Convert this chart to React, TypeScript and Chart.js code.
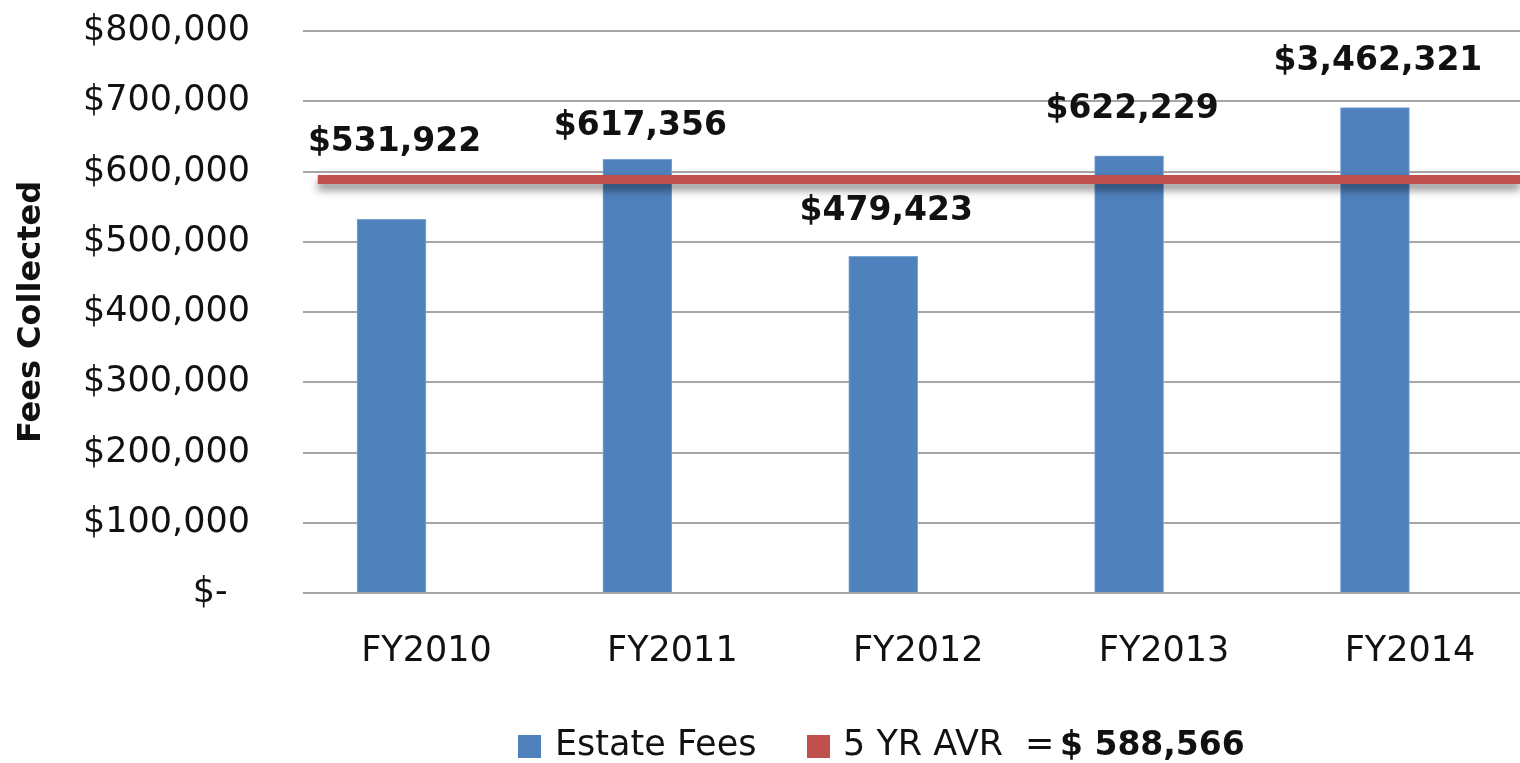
import React, { useEffect, useRef } from "react";
import { Chart, registerables } from "chart.js";

Chart.register(...registerables);

const categories = ["FY2010", "FY2011", "FY2012", "FY2013", "FY2014"];
const estateFees = [531922, 617356, 479423, 622229, 691000];
const feeLabels = ["$531,922", "$617,356", "$479,423", "$622,229", "$3,462,321"];
const fiveYearAvg = 588566;
const avgLineStart = -0.3;
const avgLineEnd = 4.59;
const yMax = 800000;
const yStep = 100000;

const FONT = '"DejaVu Sans", sans-serif';
const BLUE = "#4F81BD";
const RED = "#C0504D";
const TEXT = "#111111";

const barLabelsPlugin = {
  id: "barLabels",
  afterDatasetsDraw(chart: any, _args: any, opts: any) {
    const meta = chart.getDatasetMeta(0);
    const ctx = chart.ctx;
    ctx.save();
    ctx.font = `bold 33px ${FONT}`;
    ctx.fillStyle = TEXT;
    ctx.textAlign = "center";
    ctx.textBaseline = "middle";
    meta.data.forEach((bar: any, i: number) => {
      ctx.fillText(feeLabels[i], bar.x + opts.dx, bar.y - opts.lift[i]);
    });
    ctx.restore();
  },
};

const lineShadowPlugin = {
  id: "lineShadow",
  beforeDatasetDraw(chart: any, args: any) {
    if (args.index === 1) {
      const ctx = chart.ctx;
      ctx.save();
      ctx.shadowColor = "rgba(0,0,0,0.45)";
      ctx.shadowBlur = 9;
      ctx.shadowOffsetY = 6;
    }
  },
  afterDatasetDraw(chart: any, args: any) {
    if (args.index === 1) chart.ctx.restore();
  },
};

const customLegendPlugin = {
  id: "customLegend",
  afterDraw(chart: any, _args: any, opts: any) {
    const ctx = chart.ctx;
    const y = opts.y;
    ctx.save();
    ctx.textBaseline = "middle";
    ctx.textAlign = "left";
    ctx.fillStyle = BLUE;
    ctx.fillRect(opts.x1, y - 11, 23, 23);
    ctx.fillStyle = TEXT;
    ctx.font = `35px ${FONT}`;
    ctx.fillText("Estate Fees", opts.x1 + 37, y);
    ctx.fillStyle = RED;
    ctx.fillRect(opts.x2, y - 11, 23, 23);
    ctx.fillStyle = TEXT;
    ctx.font = `35px ${FONT}`;
    ctx.fillText("5 YR AVR", opts.x2 + 36, y);
    ctx.fillText("=", opts.x3, y);
    ctx.font = `bold 33px ${FONT}`;
    ctx.fillText("$ " + fiveYearAvg.toLocaleString("en-US"), opts.x4, y);
    ctx.restore();
  },
};

export default function App() {
  const canvasRef = useRef<HTMLCanvasElement | null>(null);

  useEffect(() => {
    if (!canvasRef.current) return;
    const chart = new Chart(canvasRef.current, {
      type: "bar",
      data: {
        datasets: [
          {
            type: "bar",
            label: "Estate Fees",
            data: estateFees.map((v, i) => ({ x: i, y: v })),
            backgroundColor: BLUE,
            borderColor: "#7EA6D6",
            borderWidth: 1,
            barThickness: 69,
            order: 1,
          } as any,
          {
            type: "line",
            label: "5 YR AVR",
            data: [
              { x: avgLineStart, y: fiveYearAvg },
              { x: avgLineEnd, y: fiveYearAvg },
            ],
            borderColor: RED,
            borderWidth: 9,
            pointRadius: 0,
            borderCapStyle: "butt",
            order: 0,
          } as any,
        ],
      },
      options: {
        responsive: false,
        animation: false,
        layout: { padding: { top: 31, right: 0, left: 0, bottom: 0 } },
        plugins: {
          legend: { display: false },
          tooltip: { enabled: false },
          barLabels: { dx: 3, lift: [77, 33, 45, 46, 46] },
          customLegend: { y: 746, x1: 518, x2: 807, x3: 1025, x4: 1060 },
        } as any,
        scales: {
          x: {
            type: "linear",
            offset: false,
            min: -0.36,
            max: 4.59,
            afterBuildTicks: (s: any) => {
              s.ticks = categories.map((_, i) => ({ value: i }));
            },
            afterFit: (s: any) => {
              s.height = 170;
              s.paddingLeft = 0;
              s.paddingRight = 0;
            },
            grid: { display: false, drawTicks: false, offset: false },
            border: { display: false },
            ticks: {
              callback: (v: any) => categories[v] ?? "",
              labelOffset: 35,
              padding: 38,
              maxRotation: 0,
              autoSkip: false,
              color: TEXT,
              font: { family: FONT, size: 35 },
            },
          },
          y: {
            min: 0,
            max: yMax,
            afterFit: (s: any) => {
              s.width = 303;
              s.paddingTop = 0;
              s.paddingBottom = 0;
            },
            grid: { color: "#A6A6A6", lineWidth: 2, drawTicks: false },
            border: { display: false },
            ticks: {
              stepSize: yStep,
              padding: 53,
              color: TEXT,
              font: { family: FONT, size: 35 },
              callback: (v: any) =>
                v === 0 ? "$-  " : "$" + Number(v).toLocaleString("en-US"),
            },
            title: {
              display: true,
              text: "Fees Collected",
              color: TEXT,
              font: { family: FONT, size: 32, weight: "bold" },
              padding: { top: 12, bottom: 0 },
            },
          },
        },
      } as any,
      plugins: [lineShadowPlugin, barLabelsPlugin, customLegendPlugin],
    });
    return () => chart.destroy();
  }, []);

  return (
    <div style={{ position: "absolute", left: 0, top: 0, width: 1520, height: 763, background: "#fff" }}>
      <canvas ref={canvasRef} width={1520} height={763} style={{ display: "block" }} />
    </div>
  );
}
